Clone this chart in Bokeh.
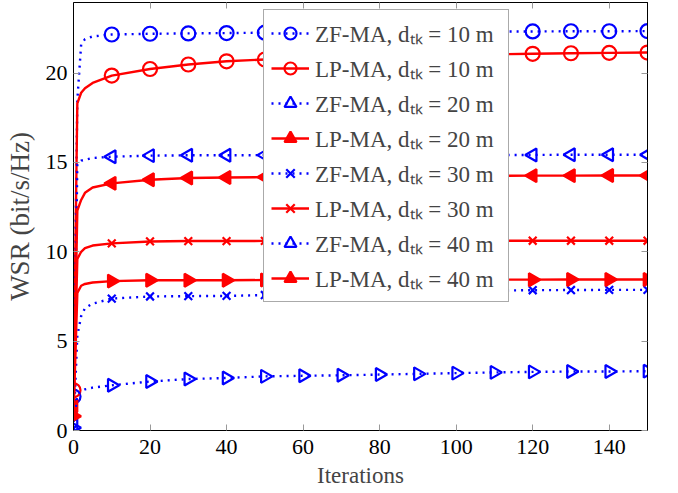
import math
from bokeh.plotting import figure
from bokeh.models import Legend, LegendItem, FixedTicker, LinearAxis, Range1d
from bokeh.embed import file_html
from bokeh.resources import INLINE

iters = [0, 1, 2, 3, 5, 10, 20, 30, 40, 50, 60, 70, 80, 90, 100, 110, 120, 130, 140, 150]

zf10 = [1.9, 18.5, 21.6, 21.9, 22.05, 22.16, 22.2, 22.22, 22.24, 22.26, 22.27, 22.28, 22.29, 22.3, 22.31, 22.32, 22.33, 22.34, 22.34, 22.35]
lp10 = [2.25, 18.3, 18.9, 19.15, 19.45, 19.86, 20.23, 20.48, 20.66, 20.76, 20.84, 20.9, 20.95, 20.99, 21.02, 21.05, 21.08, 21.11, 21.13, 21.15]
zf20 = [0.3, 14.9, 15.1, 15.15, 15.25, 15.32, 15.38, 15.4, 15.4, 15.41, 15.41, 15.41, 15.42, 15.42, 15.42, 15.42, 15.42, 15.43, 15.43, 15.43]
lp20 = [1.4, 12.3, 12.9, 13.3, 13.6, 13.83, 14.03, 14.13, 14.16, 14.18, 14.2, 14.21, 14.22, 14.23, 14.24, 14.25, 14.26, 14.26, 14.27, 14.27]
zf30 = [0.1, 5.3, 6.4, 6.85, 7.1, 7.38, 7.5, 7.52, 7.53, 7.58, 7.63, 7.68, 7.72, 7.76, 7.8, 7.83, 7.85, 7.86, 7.87, 7.87]
lp30 = [1.2, 9.6, 10.0, 10.2, 10.35, 10.47, 10.58, 10.6, 10.6, 10.61, 10.61, 10.61, 10.62, 10.62, 10.62, 10.62, 10.62, 10.62, 10.62, 10.62]
zf40 = [0.15, 2.0, 2.2, 2.3, 2.4, 2.53, 2.74, 2.88, 2.94, 3.03, 3.06, 3.09, 3.13, 3.17, 3.21, 3.25, 3.28, 3.3, 3.3, 3.32]
lp40 = [0.8, 7.7, 8.1, 8.2, 8.28, 8.36, 8.41, 8.41, 8.41, 8.42, 8.42, 8.43, 8.43, 8.43, 8.44, 8.44, 8.44, 8.45, 8.45, 8.45]

labels = [
    "ZF-MA, d\u209c\u2096 = 10 m", "LP-MA, d\u209c\u2096 = 10 m",
    "ZF-MA, d\u209c\u2096 = 20 m", "LP-MA, d\u209c\u2096 = 20 m",
    "ZF-MA, d\u209c\u2096 = 30 m", "LP-MA, d\u209c\u2096 = 30 m",
    "ZF-MA, d\u209c\u2096 = 40 m", "LP-MA, d\u209c\u2096 = 40 m",
]
x_ticks = [0, 20, 40, 60, 80, 100, 120, 140]
y_ticks = [0, 5, 10, 15, 20]

BLUE = "#0000FF"
RED = "#FF0000"
FONT = "Liberation Serif"

p = figure(width=678, height=493, output_backend="svg", toolbar_location=None,
           x_range=Range1d(0, 150), y_range=Range1d(0, 23.95),
           min_border_left=73, min_border_right=31, min_border_top=2, min_border_bottom=63)
p.background_fill_color = "white"
p.border_fill_color = "white"
p.outline_line_color = "black"
p.outline_line_width = 1
p.xgrid.visible = False
p.ygrid.visible = False

series = [
    (zf10, BLUE, "dotted", "circle", 0.0, False, 14),
    (lp10, RED, "solid", "circle", 0.0, False, 14),
    (zf20, BLUE, "dotted", "triangle", math.pi / 2, False, 13),
    (lp20, RED, "solid", "triangle", math.pi / 2, True, 13),
    (zf30, BLUE, "dotted", "x", 0.0, False, 11),
    (lp30, RED, "solid", "x", 0.0, False, 11),
    (zf40, BLUE, "dotted", "triangle", -math.pi / 2, False, 13),
    (lp40, RED, "solid", "triangle", -math.pi / 2, True, 13),
]

mark_idx = [i for i, it in enumerate(iters) if it % 10 == 0]
mx = [iters[i] for i in mark_idx]

items = []
for (vals, color, style, marker, ang, filled, size), lab in zip(series, labels):
    dash = "2 5" if style == "dotted" else "solid"
    lr = p.line(iters, vals, line_color=color, line_width=2.4, line_dash=dash)
    my = [vals[i] for i in mark_idx]
    sr = p.scatter(mx, my, marker=marker, angle=ang, size=size,
                   line_color=color, line_width=2.2,
                   fill_color=color if filled else None)
    items.append(LegendItem(label=lab, renderers=[lr, sr]))

legend = Legend(items=items, location=(190, 128),
                label_text_font=FONT, label_text_font_size="23px",
                glyph_width=38, glyph_height=30, label_height=30, label_width=186,
                spacing=3, padding=7, label_standoff=6, margin=0,
                border_line_color="#555555", border_line_width=1,
                background_fill_color="white", background_fill_alpha=1.0)
p.add_layout(legend)

for ax in (p.xaxis[0], p.yaxis[0]):
    ax.major_label_text_font = FONT
    ax.major_label_text_font_size = "22px"
    ax.major_label_text_color = "black"
    ax.axis_label_text_font = FONT
    ax.axis_label_text_font_style = "normal"
    ax.axis_line_color = "black"
    ax.major_tick_in = 6
    ax.major_tick_out = 0
    ax.major_tick_line_color = "#999999"
    ax.minor_tick_line_color = None

p.xaxis.ticker = FixedTicker(ticks=x_ticks)
p.yaxis.ticker = FixedTicker(ticks=y_ticks)
p.xaxis.axis_label = "Iterations"
p.yaxis.axis_label = "WSR (bit/s/Hz)"
p.xaxis.axis_label_text_font_size = "23px"
p.yaxis.axis_label_text_font_size = "27px"
p.xaxis.major_label_standoff = 9
p.yaxis.major_label_standoff = 6
p.xaxis.axis_label_standoff = 6
p.yaxis.axis_label_standoff = 8

top = LinearAxis(ticker=FixedTicker(ticks=x_ticks), major_label_text_font_size="1px",
                 major_label_text_color=None,
                 major_tick_in=6, major_tick_out=0, major_tick_line_color="#999999",
                 minor_tick_line_color=None, axis_line_color="black", major_label_standoff=0)
right = LinearAxis(ticker=FixedTicker(ticks=y_ticks), major_label_text_font_size="1px",
                   major_label_text_color=None,
                   major_tick_in=6, major_tick_out=0, major_tick_line_color="#999999",
                   minor_tick_line_color=None, axis_line_color="black", major_label_standoff=0)
p.add_layout(top, "above")
p.add_layout(right, "right")

open("out.html", "w").write(file_html(p, INLINE))
